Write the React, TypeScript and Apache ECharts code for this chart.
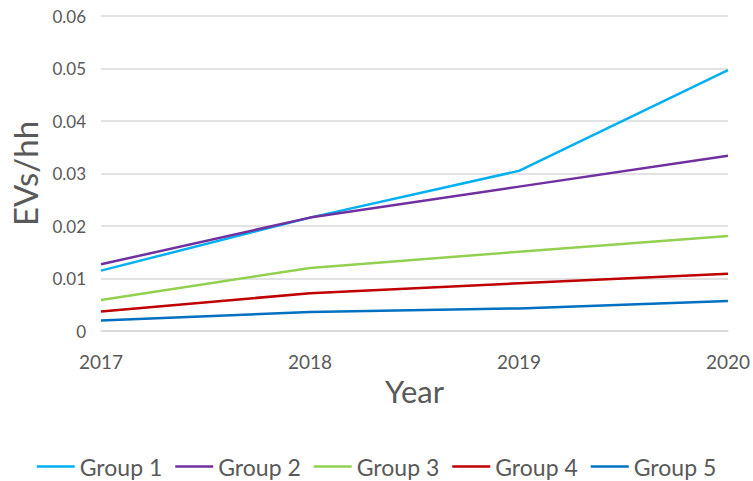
import React, { useEffect, useRef } from "react";
import * as echarts from "echarts";

const years = ["2017", "2018", "2019", "2020"];
const group1 = [0.0115, 0.0216, 0.0305, 0.0497];
const group2 = [0.0127, 0.0216, 0.0275, 0.0334];
const group3 = [0.0059, 0.012, 0.0151, 0.0181];
const group4 = [0.0037, 0.0072, 0.0091, 0.0109];
const group5 = [0.002, 0.0036, 0.0043, 0.0057];

const seriesDefs = [
  { name: "Group 1", data: group1, color: "#00B0F0" },
  { name: "Group 2", data: group2, color: "#7030A0" },
  { name: "Group 3", data: group3, color: "#92D050" },
  { name: "Group 4", data: group4, color: "#C00000" },
  { name: "Group 5", data: group5, color: "#0070C0" },
];

const FONT = "Lato, 'Liberation Sans', sans-serif";
const GREY = "#595959";

export default function App() {
  const ref = useRef<HTMLDivElement>(null);
  useEffect(() => {
    if (!ref.current) return;
    const chart = echarts.init(ref.current, undefined, { renderer: "svg" });
    chart.setOption({
      animation: false,
      textStyle: { fontFamily: FONT },
      grid: { left: 101, right: 25, top: 16, bottom: 150, containLabel: false },
      legend: {
        top: 450,
        left: "center",
        icon: "rect",
        itemWidth: 38,
        itemHeight: 2.5,
        itemGap: 13,
        textStyle: { fontSize: 23, color: GREY, fontFamily: FONT },
        data: seriesDefs.map((s) => s.name),
      },
      xAxis: {
        type: "category",
        data: years,
        boundaryGap: false,
        name: "Year",
        nameLocation: "middle",
        nameGap: 44,
        nameTextStyle: { fontSize: 31, color: GREY, fontFamily: FONT },
        axisLine: { show: true, lineStyle: { color: "#d9d9d9", width: 1.5 } },
        axisTick: { show: false },
        axisLabel: { fontSize: 19, color: GREY, margin: 21, fontFamily: FONT },
        splitLine: { show: false },
      },
      yAxis: {
        type: "value",
        min: 0,
        max: 0.06,
        interval: 0.01,
        name: "EVs/hh",
        nameLocation: "middle",
        nameGap: 60,
        nameTextStyle: { fontSize: 33, color: GREY, fontFamily: FONT },
        axisLine: { show: false },
        axisTick: { show: false },
        axisLabel: {
          fontSize: 17,
          color: GREY,
          margin: 15,
          fontFamily: FONT,
          formatter: (v: number) => (v === 0 ? "0" : v.toFixed(2)),
        },
        splitLine: { lineStyle: { color: "#d9d9d9", width: 1.5 } },
      },
      series: seriesDefs.map((s) => ({
        name: s.name,
        type: "line",
        data: s.data,
        showSymbol: false,
        symbol: "none",
        lineStyle: { color: s.color, width: 2.5 },
        itemStyle: { color: s.color },
      })),
    });
    return () => chart.dispose();
  }, []);
  return (
    <div
      ref={ref}
      style={{ position: "absolute", left: 0, top: 0, width: 753, height: 481 }}
    />
  );
}
